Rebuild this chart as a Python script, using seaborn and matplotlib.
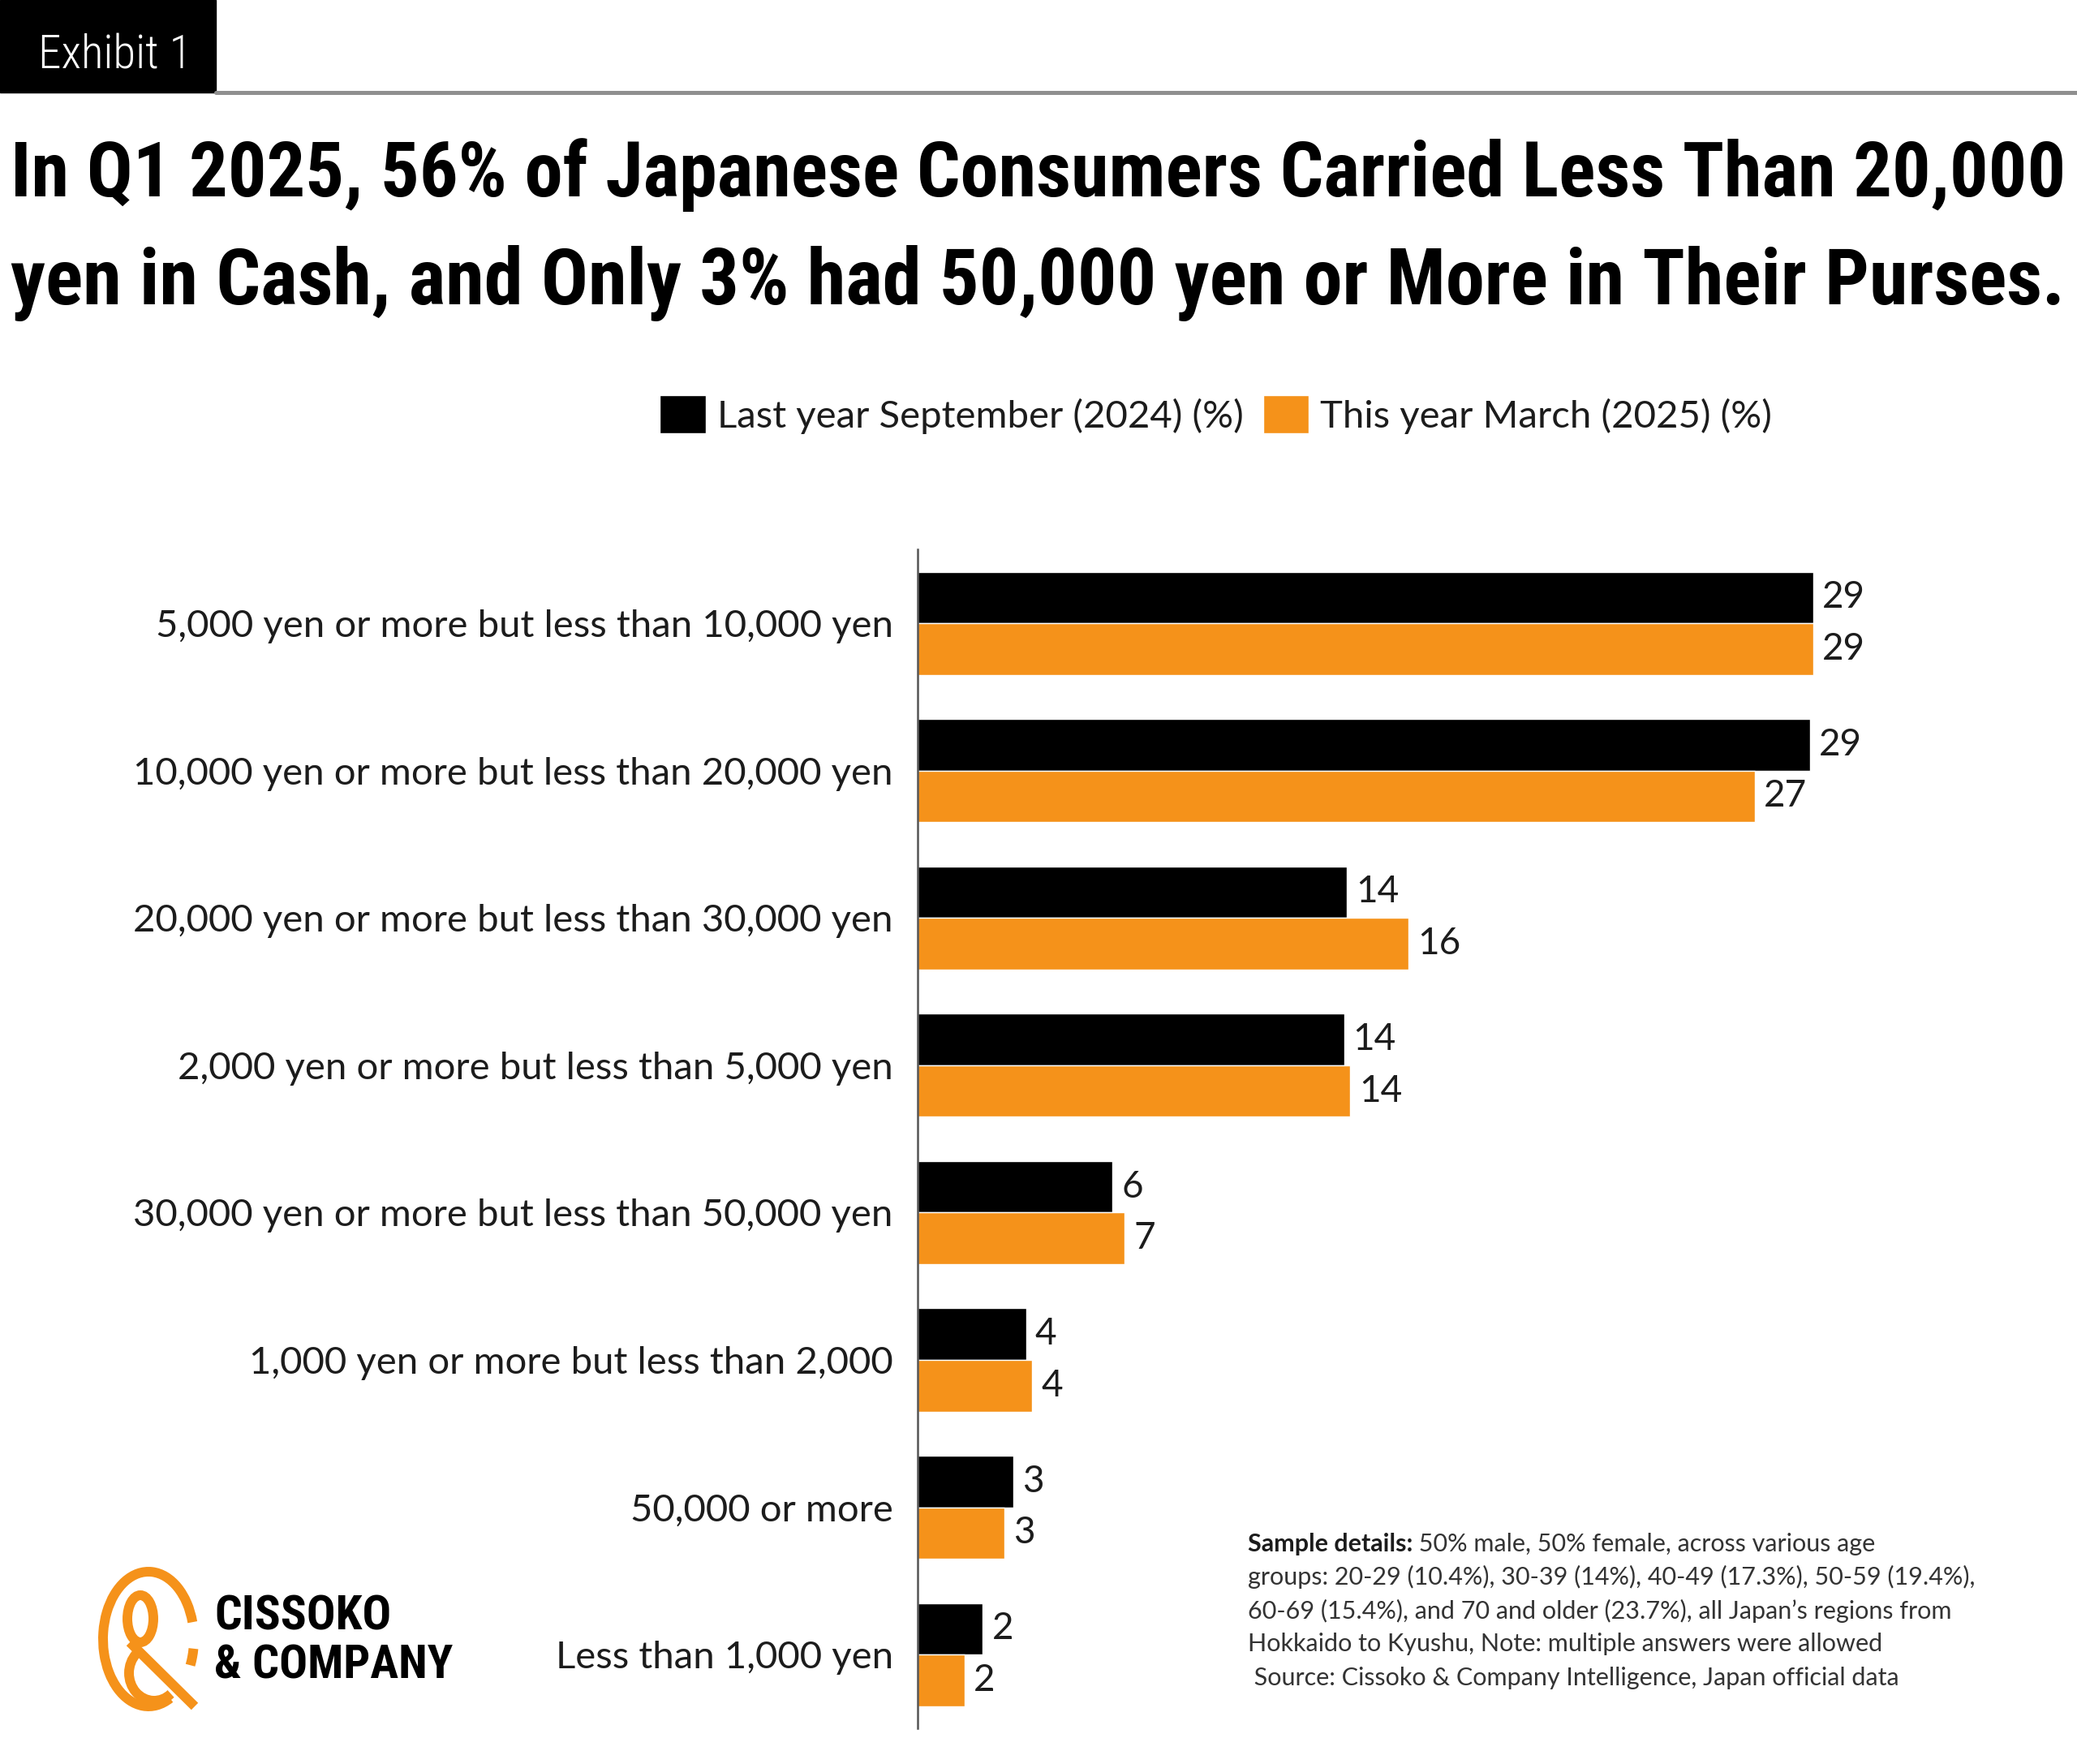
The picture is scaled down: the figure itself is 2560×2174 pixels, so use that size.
import matplotlib
matplotlib.use("Agg")
import matplotlib.pyplot as plt
import seaborn as sns
import pandas as pd
from matplotlib import font_manager
from matplotlib.patches import Arc, Ellipse, Rectangle
from matplotlib.lines import Line2D

# data (bar lengths estimated, labels as printed)
categories = [
    "5,000 yen or more but less than 10,000 yen",
    "10,000 yen or more but less than 20,000 yen",
    "20,000 yen or more but less than 30,000 yen",
    "2,000 yen or more but less than 5,000 yen",
    "30,000 yen or more but less than 50,000 yen",
    "1,000 yen or more but less than 2,000",
    "50,000 or more",
    "Less than 1,000 yen",
]
series = ["Last year September (2024) (%)", "This year March (2025) (%)"]
sep_2024 = [29.0, 28.9, 13.9, 13.8, 6.3, 3.5, 3.1, 2.1]
mar_2025 = [29.0, 27.1, 15.9, 14.0, 6.7, 3.7, 2.8, 1.5]
sep_labels = ["29", "29", "14", "14", "6", "4", "3", "2"]
mar_labels = ["29", "27", "16", "14", "7", "4", "3", "2"]

title_lines = [
    "In Q1 2025, 56% of Japanese Consumers Carried Less Than 20,000",
    "yen in Cash, and Only 3% had 50,000 yen or More in Their Purses.",
]
note_first = " 50% male, 50% female, across various age"
note_lines = [
    "groups: 20-29 (10.4%), 30-39 (14%), 40-49 (17.3%), 50-59 (19.4%),",
    "60-69 (15.4%), and 70 and older (23.7%), all Japan\u2019s regions from",
    "Hokkaido to Kyushu, Note: multiple answers were allowed",
    " Source: Cissoko & Company Intelligence, Japan official data",
]

BLACK = "#000000"
ORANGE = "#F5921A"
TEXT = "#1c1c1c"

df = pd.DataFrame({
    "amount": categories * 2,
    "period": [series[0]] * len(categories) + [series[1]] * len(categories),
    "share": sep_2024 + mar_2025,
})

sns.set_theme(style="white")
plt.rcParams["font.family"] = ["Lato", "DejaVu Sans"]

# a narrow face for the headline if one is installed
installed = {f.name for f in font_manager.fontManager.ttflist}
narrow_name = next((n for n in ["Roboto Condensed", "Noto Sans Condensed",
                                "Open Sans Condensed", "Liberation Sans Narrow",
                                "Noto Sans SemiCondensed"] if n in installed),
                   "Roboto")
narrow = [narrow_name, "DejaVu Sans"]

W, H = 1568, 1332  # working grid the layout was measured on
def fx(x):
    return x / W
def fy(y):
    return 1 - y / H

fig = plt.figure(figsize=(25.6, 21.74), dpi=100)
renderer = fig.canvas.get_renderer()
S = 2560 / W

def fit(t, width):
    bb = t.get_window_extent(renderer)
    t.set_fontsize(t.get_fontsize() * width * S / bb.width)

ax = fig.add_axes([fx(693), fy(1305), 1 - fx(693), (1305 - 415) / H])
sns.barplot(data=df, y="amount", x="share", hue="period", orient="h",
            palette=[BLACK, ORANGE], saturation=1, width=0.7,
            errorbar=None, ax=ax)
ax.set_xlim(0, 37.54)
ax.set_ylim(7.5, -0.5)
ax.set_xticks([])
ax.set_xlabel("")
ax.set_ylabel("")
for s in ["top", "right", "bottom"]:
    ax.spines[s].set_visible(False)
ax.spines["left"].set_color("#555555")
ax.spines["left"].set_linewidth(1.8)
ax.tick_params(axis="y", length=0, pad=22, labelsize=34, labelcolor=TEXT)

for cont, labs in zip(ax.containers, [sep_labels, mar_labels]):
    ax.bar_label(cont, labels=labs, padding=8, fontsize=33, color=TEXT)

sns.move_legend(ax, "center", bbox_to_anchor=(fx(918), fy(313)),
                bbox_transform=fig.transFigure, ncol=2, title=None,
                frameon=False, fontsize=34, handlelength=1.2,
                handleheight=1.15, handletextpad=0.3, columnspacing=0.5)
for t in ax.get_legend().get_texts():
    t.set_color(TEXT)

# header block
fig.add_artist(Rectangle((0, fy(70)), fx(163), 70 / H, color=BLACK,
                         transform=fig.transFigure, zorder=1))
ex = fig.text(fx(29), fy(52), "Exhibit 1", color="white", fontsize=40,
              family=narrow, fontweight="light", va="baseline", zorder=5)
fit(ex, 116)
fig.add_artist(Line2D([fx(163), 1], [fy(70), fy(70)], color="#8f8f8f",
                      lw=3.6, transform=fig.transFigure))

t1 = fig.text(fx(8), fy(148), title_lines[0], fontsize=80, color=BLACK,
              fontweight="bold", family=narrow, va="baseline")
fit(t1, 1552)
t2 = fig.text(fx(8), fy(230), title_lines[1], fontsize=80, color=BLACK,
              fontweight="bold", family=narrow, va="baseline")
fit(t2, 1550)

# sample note
bold = fig.text(fx(942), fy(1166), "Sample details:", fontsize=22,
                fontweight="bold", color=TEXT, va="center")
ax.annotate(note_first, xy=(1, 0.5), xycoords=bold, va="center", ha="left",
            fontsize=22, color="#333333", annotation_clip=False)
for i, line in enumerate(note_lines):
    fig.text(fx(942), fy(1191 + 25.3 * i), line, fontsize=22,
             color="#333333", va="center")

# logo, drawn on an overlay in full-size pixel units
ov = fig.add_axes([0, 0, 1, 1], zorder=-1)
ov.set_xlim(0, 2560)
ov.set_ylim(2174, 0)
ov.axis("off")
lw = 8.6
ov.add_patch(Arc((183, 2020), 112, 166, theta1=70, theta2=339,
                 color=ORANGE, lw=lw))
ov.add_patch(Arc((183, 2020), 112, 166, theta1=12, theta2=32,
                 color=ORANGE, lw=lw))
ov.add_patch(Ellipse((173, 1995), 32, 58, fill=False, ec=ORANGE, lw=lw))
ov.add_patch(Arc((190, 2062), 62, 68, theta1=51, theta2=227,
                 color=ORANGE, lw=lw))
ov.plot([160, 240], [2024, 2103], color=ORANGE, lw=lw,
        solid_capstyle="butt")

c1 = fig.text(fx(162), fy(1221), "CISSOKO", fontsize=40, fontweight="bold",
              family=narrow, va="center", color=BLACK)
fit(c1, 133)
c2 = fig.text(fx(162), fy(1258), "& COMPANY", fontsize=40, color=BLACK,
              fontweight="bold", family=narrow, va="center")
fit(c2, 180)

fig.savefig("out.png", dpi=100)
